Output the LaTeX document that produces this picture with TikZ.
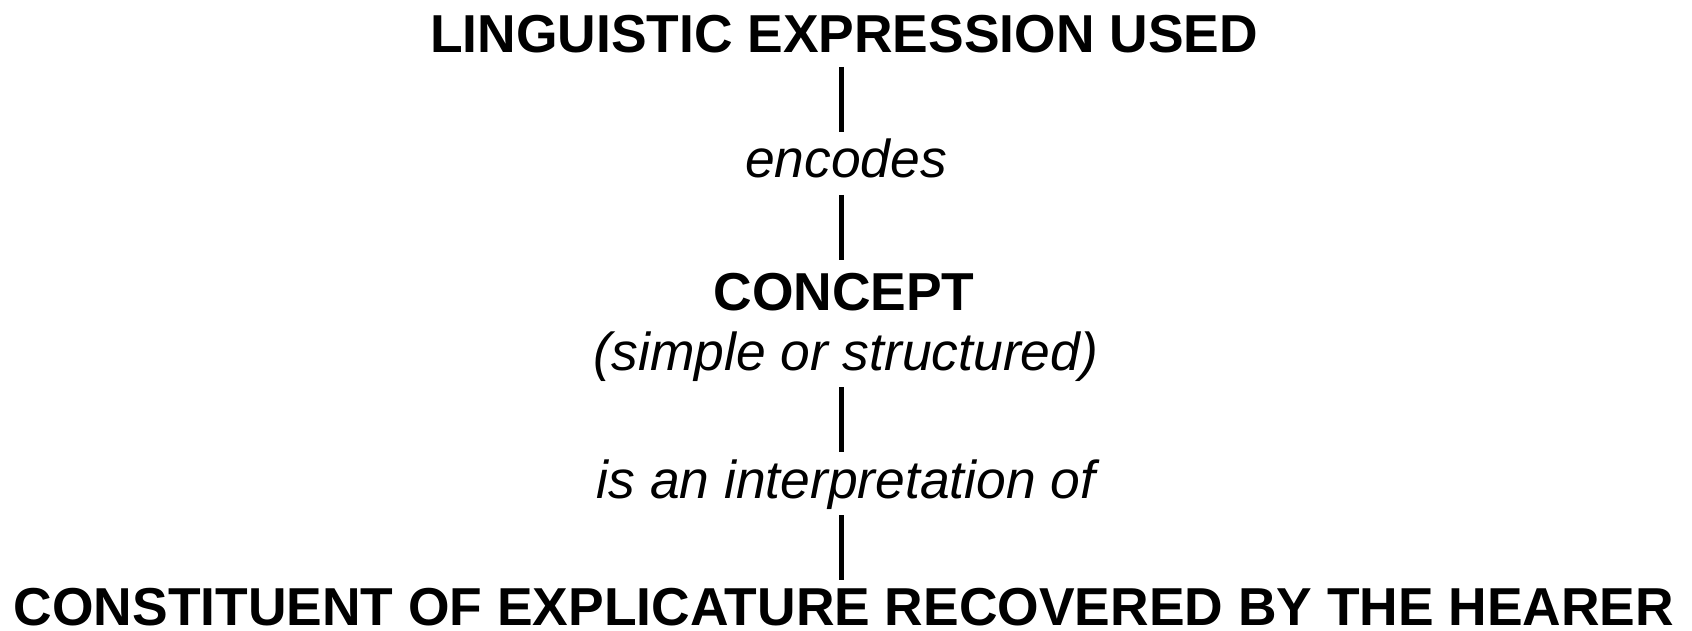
\documentclass[tikz,border=0pt]{standalone}
\usepackage{fontspec}
\setmainfont{Liberation Sans}
\usetikzlibrary{calc}
\begin{document}
\begin{tikzpicture}[x=1pt,y=-1pt,
  txt/.style={inner sep=0pt, anchor=base},
  head/.style={txt, font=\fontsize{53.4}{60}\selectfont\bfseries},
  rel/.style={txt, font=\fontsize{53.4}{60}\selectfont\itshape},
  link/.style={line width=4.5pt}]
\useasboundingbox (0,0) rectangle (1692,631);
\node[head] (expr) at (844,53) {LINGUISTIC EXPRESSION USED};
\node[rel] (enc) at (846,178) {encodes};
\node[head] (conc) at (844,310) {CONCEPT};
\node[rel] (kind) at (846,370) {(simple or structured)};
\node[rel] (interp) at (846,498) {is an interpretation of};
\node[head] (expl) at (844,625) {CONSTITUENT OF EXPLICATURE RECOVERED BY THE HEARER};
\draw[link] ($(expr.base)+(-2.5,14)$) -- ($(enc.base)+(-4.5,-46)$);
\draw[link] ($(enc.base)+(-4.5,17)$) -- ($(conc.base)+(-2.5,-50)$);
\draw[link] ($(kind.base)+(-4.5,17)$) -- ($(interp.base)+(-4.5,-46)$);
\draw[link] ($(interp.base)+(-4.5,17)$) -- ($(expl.base)+(-2.5,-45)$);
\end{tikzpicture}
\end{document}
